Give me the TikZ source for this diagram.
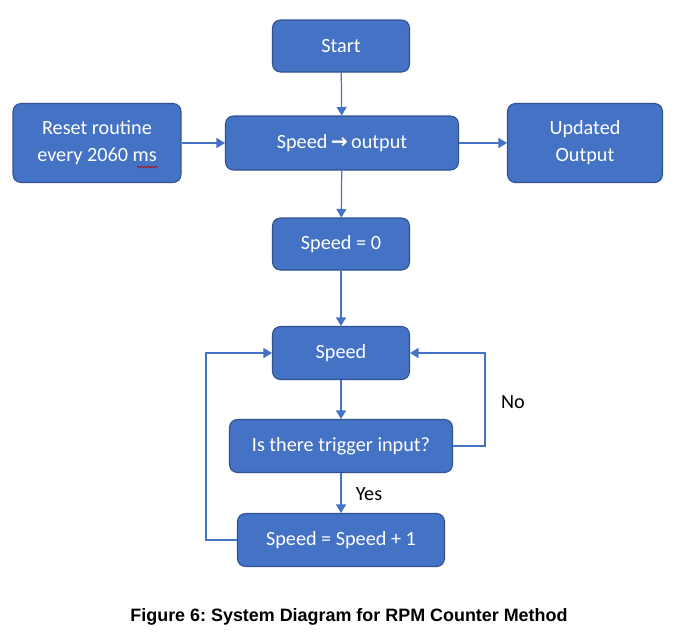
\documentclass[tikz,border=0pt]{standalone}
\usepackage{fontspec}
\setmainfont{Carlito}
\newfontfamily\capfont{Liberation Sans}
\newfontfamily\symfont{DejaVu Sans}
\usetikzlibrary{arrows.meta,decorations.pathmorphing}
\definecolor{cfill}{HTML}{4472C4}
\definecolor{cedge}{HTML}{2F528F}
\definecolor{cline}{HTML}{4472C4}
\definecolor{cspell}{HTML}{C00000}
\frenchspacing
\tikzset{
  box/.style={rectangle, rounded corners=4.5pt, draw=cedge, fill=cfill, line width=0.6pt,
              text=white, align=center, inner sep=0pt, font=\fontsize{11.5}{15.3}\selectfont},
  flow/.style={-{Triangle[length=1.7mm,width=2mm]}, line width=0.7pt, draw=cline},
  lbl/.style={font=\fontsize{11.5}{13}\selectfont, inner sep=0pt}
}
\begin{document}
\begin{tikzpicture}[x=0.02cm, y=-0.02cm]
\useasboundingbox (0,0) rectangle (681,637);
\node[box, minimum width=2.74cm, minimum height=1.04cm] (start) at (341,46) {Start};
\node[box, minimum width=3.36cm, minimum height=1.58cm] (reset) at (97,143) {Reset routine\\every 2060 ms};
\node[box, minimum width=4.66cm, minimum height=1.08cm] (sout) at (342,143) {Speed\,{\symfont\bfseries →}\,output};
\node[box, minimum width=3.10cm, minimum height=1.58cm] (upd) at (585,143) {Updated\\Output};
\node[box, minimum width=2.74cm, minimum height=1.04cm] (szero) at (341,244) {Speed = 0};
\node[box, minimum width=2.74cm, minimum height=1.06cm] (spd) at (341,353) {Speed};
\node[box, minimum width=4.46cm, minimum height=1.06cm] (trig) at (341,446) {Is there trigger input?};
\node[box, minimum width=4.14cm, minimum height=1.06cm] (inc) at (341,540) {Speed = Speed + 1};
\node[lbl] (no) at (513,402) {No};
\node[lbl] (yes) at (369,494) {Yes};
\node[font=\capfont\bfseries\fontsize{10.2}{12}\selectfont, inner sep=0pt] (cap) at (349,617)
  {Figure 6: System Diagram for RPM Counter Method};
% spell-check squiggle under "ms"
\draw[cspell, line width=0.4pt, decorate, decoration={snake, amplitude=0.4pt, segment length=2pt}]
  (137,167) -- (158,167);
\draw[flow] (start) -- (sout);
\draw[flow] (reset) -- (sout);
\draw[flow] (sout) -- (upd);
\draw[flow] (sout) -- (szero);
\draw[flow] (szero) -- (spd);
\draw[flow] (spd) -- (trig);
\draw[flow] (trig) -- (inc);
\draw[flow] (trig.east) -- (485,446) |- (spd.east);
\draw[flow] (inc.west) -- (206,540) |- (spd.west);
\end{tikzpicture}
\end{document}
